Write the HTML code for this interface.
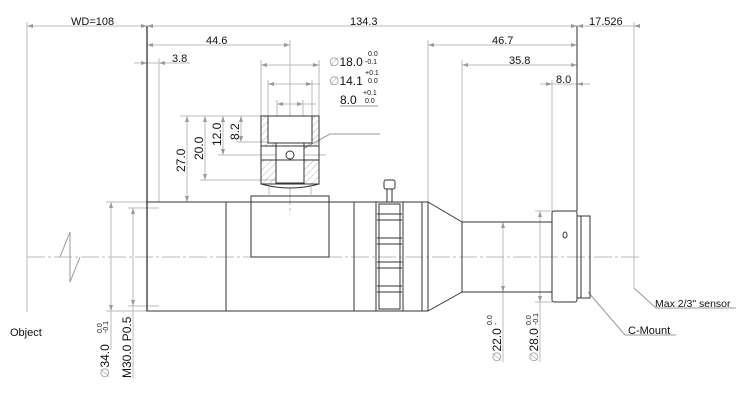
<!DOCTYPE html>
<html><head><meta charset="utf-8"><style>
html,body{margin:0;padding:0;background:#fff}
svg{display:block}
text{font-family:"Liberation Sans",sans-serif;fill:#111}
</style></head><body>
<svg width="743" height="400" viewBox="0 0 743 400" xmlns="http://www.w3.org/2000/svg">
<defs>
<pattern id="h" width="5" height="5" patternUnits="userSpaceOnUse" patternTransform="rotate(45)"><line x1="0" y1="0" x2="0" y2="5" stroke="#777" stroke-width="0.6"/></pattern>
</defs>
<g stroke="#bbb" stroke-width="1" fill="none">
<line x1="27" y1="22" x2="27" y2="312"/>
<line x1="159" y1="58" x2="159" y2="202"/>
<line x1="290" y1="40" x2="290" y2="106"/>
<line x1="261" y1="60" x2="261" y2="116"/><line x1="319" y1="60" x2="319" y2="116"/>
<line x1="268" y1="80" x2="268" y2="116"/><line x1="312" y1="80" x2="312" y2="116"/>
<line x1="277" y1="100" x2="277" y2="116"/><line x1="303" y1="100" x2="303" y2="116"/>
<line x1="428" y1="40" x2="428" y2="202"/>
<line x1="462" y1="60" x2="462" y2="222"/>
<line x1="552" y1="80" x2="552" y2="211"/>
<line x1="634" y1="22" x2="634" y2="288"/>
<line x1="27" y1="26" x2="640" y2="26"/>
<line x1="147" y1="45" x2="290" y2="45"/>
<line x1="134" y1="63" x2="190" y2="63"/>
<line x1="261" y1="65" x2="320" y2="65"/>
<line x1="268" y1="84" x2="320" y2="84"/>
<line x1="277" y1="104" x2="316" y2="104"/>
<line x1="428" y1="45" x2="577" y2="45"/>
<line x1="462" y1="65" x2="577" y2="65"/>
<line x1="540" y1="84" x2="590" y2="84"/>
<line x1="180" y1="116" x2="261" y2="116"/>
<line x1="187" y1="116" x2="187" y2="202"/>
<line x1="205" y1="116" x2="205" y2="180"/><line x1="200" y1="180" x2="276" y2="180"/>
<line x1="223" y1="116" x2="223" y2="155"/><line x1="218" y1="155" x2="326" y2="155"/>
<line x1="241" y1="116" x2="241" y2="142"/><line x1="236" y1="142" x2="268" y2="142"/>
<line x1="111" y1="202" x2="111" y2="350"/><line x1="106" y1="202" x2="147" y2="202"/><line x1="106" y1="311" x2="147" y2="311"/>
<line x1="133" y1="208" x2="133" y2="378"/><line x1="128" y1="208" x2="159" y2="208"/><line x1="128" y1="306" x2="159" y2="306"/>
<line x1="503" y1="222" x2="503" y2="362"/>
<line x1="540" y1="211" x2="540" y2="362"/><line x1="535" y1="211" x2="552" y2="211"/><line x1="535" y1="302" x2="552" y2="302"/>
<line x1="27" y1="257" x2="640" y2="257" stroke-dasharray="18,3,3,3"/>
<line x1="290" y1="106" x2="290" y2="215" stroke-dasharray="18,3,3,3"/>
<polyline points="60,257 70,232 70,282 80,257" stroke="#999"/>
<polyline points="634,288 656,308 736,308" stroke="#999"/>
<polyline points="588,292 625,335 676,335" stroke="#999"/>
<polyline points="292,155 330,134 380,134" stroke="#999"/>
</g>
<g fill="#999" stroke="none">
<path d="M27,26 l6,-2 v4z M147,26 l-6,-2 v4z M147,26 l6,-2 v4z M577,26 l-6,-2 v4z M634,26 l6,-2 v4z M577,26 l6,-2 v4z"/>
<path d="M147,45 l6,-2 v4z M290,45 l-6,-2 v4z M428,45 l6,-2 v4z M577,45 l-6,-2 v4z M462,65 l6,-2 v4z M577,65 l-6,-2 v4z"/>
<path d="M147,63 l-6,-2 v4z M159,63 l6,-2 v4z M552,84 l-6,-2 v4z M577,84 l6,-2 v4z"/>
<path d="M261,65 l6,-2 v4z M319,65 l-6,-2 v4z M268,84 l6,-2 v4z M312,84 l-6,-2 v4z M277,104 l6,-2 v4z M303,104 l-6,-2 v4z"/>
<path d="M187,116 l-2,6 h4z M187,202 l-2,-6 h4z M205,116 l-2,6 h4z M205,180 l-2,-6 h4z M223,116 l-2,6 h4z M223,155 l-2,-6 h4z M241,116 l-2,6 h4z M241,142 l-2,-6 h4z"/>
<path d="M111,202 l-2,6 h4z M111,311 l-2,-6 h4z M133,208 l-2,6 h4z M133,306 l-2,-6 h4z M503,222 l-2,6 h4z M503,292 l-2,-6 h4z M540,211 l-2,6 h4z M540,302 l-2,-6 h4z"/>
</g>
<g stroke="#333" stroke-width="1" fill="none">
<line x1="147" y1="26" x2="147" y2="311" stroke-width="1.3"/>
<line x1="577" y1="26" x2="577" y2="211"/>
<rect x="147" y="202" width="229" height="109"/>
<line x1="226" y1="202" x2="226" y2="311"/>
<line x1="354" y1="202" x2="354" y2="311"/>
<rect x="251" y="196" width="78" height="61"/>
<line x1="251" y1="202" x2="329" y2="202"/>
<rect x="261" y="116" width="58" height="30" fill="url(#h)"/>
<rect x="268" y="116" width="44" height="27" fill="#fff"/>
<rect x="261" y="160" width="58" height="24" fill="url(#h)"/>
<rect x="276" y="143" width="28" height="40" fill="#fff"/>
<path d="M261,116 V184 Q290,192 319,184 V116 Z"/>
<line x1="261" y1="160" x2="319" y2="160"/>
<line x1="261" y1="146" x2="319" y2="146"/>
<line x1="276" y1="143" x2="276" y2="183"/><line x1="304" y1="143" x2="304" y2="183"/>
<circle cx="290" cy="155" r="4"/>
<line x1="269" y1="187" x2="269" y2="196" stroke="#bbb"/><line x1="311" y1="187" x2="311" y2="196" stroke="#bbb"/>
<rect x="376" y="202" width="27" height="109"/>
<rect x="379" y="204" width="21" height="105"/>
<path d="M377,214 h25 M377,220 h25 M377,238 h25 M377,244 h25 M377,262 h25 M377,268 h25 M377,286 h25 M377,292 h25"/>
<rect x="384" y="180" width="11" height="9" rx="2"/>
<rect x="387" y="189" width="5" height="13"/>
<line x1="403" y1="202" x2="428" y2="202"/><line x1="403" y1="311" x2="428" y2="311"/>
<line x1="422" y1="202" x2="422" y2="311"/>
<line x1="428" y1="202" x2="428" y2="311"/>
<polyline points="428,202 462,222 462,292 428,311"/>
<rect x="462" y="222" width="90" height="70"/>
<rect x="552" y="211" width="25" height="91" rx="2"/>
<rect x="577" y="216" width="13" height="82"/>
<line x1="581" y1="216" x2="581" y2="298"/>
<ellipse cx="565" cy="235" rx="2" ry="3"/>
</g>
<g font-size="11">
<text x="71" y="25">WD=108</text>
<text x="350" y="25">134.3</text>
<text x="589" y="25">17.526</text>
<text x="206" y="44">44.6</text>
<text x="172" y="62">3.8</text>
<text x="492" y="44">46.7</text>
<text x="509" y="64">35.8</text>
<text x="556" y="83">8.0</text>
<text x="329" y="66" font-size="12"><tspan fill="#999">∅</tspan>18.0</text>
<text x="329" y="85" font-size="12"><tspan fill="#999">∅</tspan>14.1</text>
<text x="340" y="104" font-size="12">8.0</text>
<text x="10" y="336">Object</text>
<text x="655" y="307" font-size="10.5">Max 2/3" sensor</text>
<text x="628" y="334">C-Mount</text>
</g>
<g font-size="7" fill="#555">
<text x="368" y="56">0.0</text><text x="365" y="64">-0.1</text>
<text x="365" y="75">+0.1</text><text x="368" y="83">0.0</text>
<text x="363" y="95">+0.1</text><text x="365" y="103">0.0</text>
</g>
<line x1="340" y1="106" x2="378" y2="106" stroke="#999"/>
<g font-size="12">
<text transform="translate(185,172) rotate(-90)">27.0</text>
<text transform="translate(203,160) rotate(-90)">20.0</text>
<text transform="translate(221,146) rotate(-90)">12.0</text>
<text transform="translate(239,140) rotate(-90)">8.2</text>
<text transform="translate(109,378) rotate(-90)"><tspan fill="#999">∅</tspan>34.0</text>
<text transform="translate(131,378) rotate(-90)">M30.0 P0.5</text>
<text transform="translate(501,362) rotate(-90)"><tspan fill="#999">∅</tspan>22.0</text>
<text transform="translate(538,362) rotate(-90)"><tspan fill="#999">∅</tspan>28.0</text>
</g>
<g font-size="7" fill="#555">
<text transform="translate(102,333) rotate(-90)">0.0</text><text transform="translate(108,333) rotate(-90)">-0.1</text>
<text transform="translate(492,325) rotate(-90)">0.0</text><text transform="translate(498,325) rotate(-90)">-</text>
<text transform="translate(531,325) rotate(-90)">0.0</text><text transform="translate(538,325) rotate(-90)">-0.1</text>
</g>
</svg>
</body></html>
